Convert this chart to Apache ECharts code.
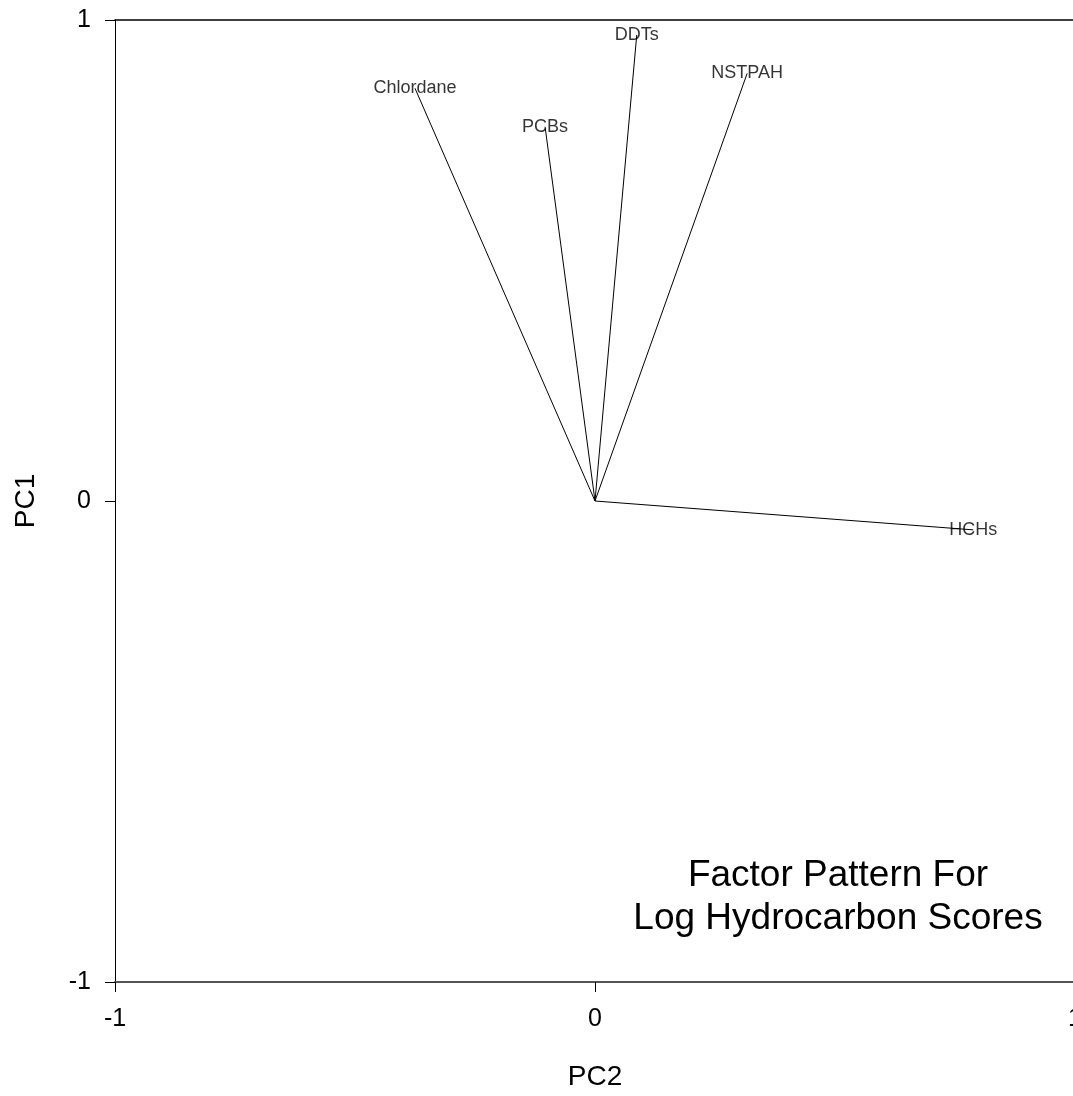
<!DOCTYPE html>
<html>
<head>
<meta charset="utf-8">
<script src="https://cdn.jsdelivr.net/npm/echarts@6/dist/echarts.min.js"></script>
<style>
  html, body { margin: 0; padding: 0; background: #fff; }
  #chart { width: 1073px; height: 1096px; }
</style>
</head>
<body>
<div id="chart"></div>
<script>
// loadings
var names = ['DDTs', 'NSTPAH', 'Chlordane', 'PCBs', 'HCHs'];
var pc2 = [0.087, 0.317, -0.375, -0.104, 0.788];   // x
var pc1 = [0.969, 0.889, 0.858, 0.778, -0.060];    // y
var ticks = [-1, 0, 1];

var font = "'Liberation Sans', Arial, sans-serif";
var chart = echarts.init(document.getElementById('chart'));

var series = [];
var ends = [];
for (var i = 0; i < names.length; i++) {
	series.push({
		type: 'line',
		data: [[0, 0], [pc2[i], pc1[i]]],
		symbol: 'none',
		lineStyle: { color: '#000', width: 1 },
		silent: true
	});
	ends.push({ name: names[i], value: [pc2[i], pc1[i]] });
}
// labels sit centred on the end of each vector
series.push({
	type: 'scatter',
	data: ends,
	symbolSize: 0,
	silent: true,
	label: {
		show: true,
		position: 'inside',
		formatter: '{b}',
		color: '#000',
		textBorderWidth: 0,
		fontFamily: font,
		fontSize: 18
	}
});

var option = {
	animation: false,
	grid: {
		left: 115, top: 20, width: 960, height: 962,
		outerBoundsMode: 'none',
		containLabel: false
	},
	xAxis: [{
		type: 'value', min: -1, max: 1, interval: 1,
		name: 'PC2', nameLocation: 'middle', nameGap: 81,
		nameTextStyle: { fontFamily: font, fontSize: 28, color: '#000' },
		axisLine: { show: true, onZero: false, lineStyle: { color: '#555', width: 2 } },
		axisTick: { show: true, length: 10, lineStyle: { color: '#000', width: 1 } },
		axisLabel: { margin: 25, fontFamily: font, fontSize: 25, color: '#000',
			formatter: function (v) { return ticks.indexOf(v) >= 0 ? String(v) : ''; } },
		splitLine: { show: false }
	}, {
		// frame line along the top
		type: 'value', position: 'top', min: -1, max: 1,
		axisLine: { show: true, onZero: false, lineStyle: { color: '#000', width: 1.5 } },
		axisTick: { show: false },
		axisLabel: { show: false },
		splitLine: { show: false }
	}],
	yAxis: {
		type: 'value', min: -1, max: 1, interval: 1,
		name: 'PC1', nameLocation: 'middle', nameGap: 75,
		nameTextStyle: { fontFamily: font, fontSize: 28, color: '#000' },
		axisLine: { show: true, onZero: false, lineStyle: { color: '#000', width: 1 } },
		axisTick: { show: true, length: 10, lineStyle: { color: '#000', width: 1 } },
		axisLabel: { margin: 24, fontFamily: font, fontSize: 25, color: '#000' },
		splitLine: { show: false }
	},
	graphic: [{
		type: 'text',
		x: 838, y: 897,
		style: {
			text: 'Factor Pattern For\nLog Hydrocarbon Scores',
			textAlign: 'center',
			textVerticalAlign: 'middle',
			fontFamily: font,
			fontSize: 37,
			lineHeight: 43,
			fill: '#000'
		}
	}],
	series: series
};
chart.setOption(option);
</script>
</body>
</html>
